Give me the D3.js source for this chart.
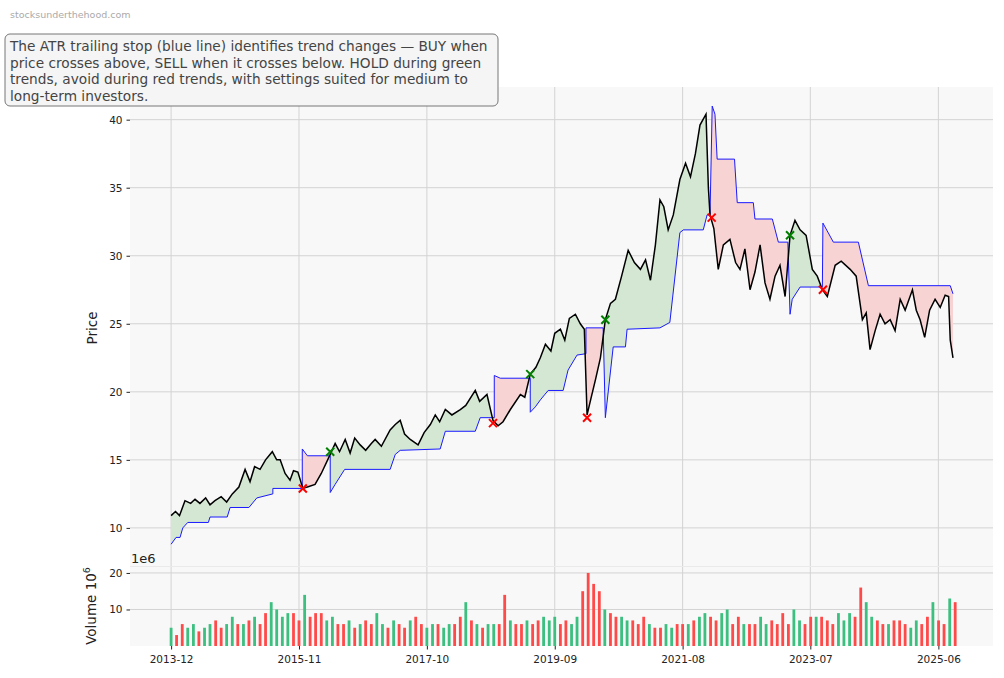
<!DOCTYPE html>
<html>
<head>
<meta charset="utf-8">
<script src="https://cdn.jsdelivr.net/npm/d3@7"></script>
<style>
body { margin: 0; background: #fff; font-family: "DejaVu Sans", sans-serif; }
</style>
</head>
<body>
<svg id="chart" width="1004" height="678"></svg>
<script>
// months since 2013-12
const priceT = [0,0.8,1.5,2.5,3.5,4.3,5.2,6.2,7,7.9,9,10,11,12.2,13.3,14.2,15,16,17,18.2,19,19.6,20.5,21.4,22,22.8,23.7,24.5,25.9,27,28.6,29.5,30.3,31.3,32.2,33,34,35,36,36.7,37.8,39.4,40.3,41.2,42,43,44.4,45.5,46.6,47.5,48.3,49.3,50.5,52,53,54.7,55.5,56.8,57.9,58.8,59.7,61,62.8,63.6,64.6,65.6,66.4,67.3,68.3,69,70,70.8,71.6,72.7,73.6,74.3,74.8,75.5,76.3,77.2,78.1,79,79.9,81,82.2,83.3,84.4,85.3,86.2,87.1,87.9,88.6,89.4,90.3,91.5,92.5,93.4,94.3,95.1,96.2,96.6,96.9,97.6,98.4,99.3,100.5,101.5,102.3,103.2,104.1,105,105.9,106.8,107.7,108.6,109.5,110.4,111.3,112.2,113.1,114.2,115.3,116.2,117.1,118,119.4,120.5,122.1,123.2,124.3,125,125.7,126.6,127.5,128.4,129.3,130.2,131.1,132,133.3,134,134.7,135.5,136.4,137.4,138.3,139.2,139.8,140.1,140.6];
const priceV = [10.9,11.2,10.9,12,11.8,12.1,11.8,12.2,11.7,12,12.3,11.9,12.5,13,14.3,13.4,14.5,14.3,15,15.6,15,15,14,13.5,14.2,14.1,12.9,13,13.2,14,15.4,16.2,15.6,16.5,15.5,16.6,16.1,15.7,16.2,16.5,16,17.2,17.6,17.9,16.9,16.5,16.1,17,17.6,18.3,17.8,18.7,18.3,18.7,19,20.1,19.3,19.8,17.9,17.5,17.8,18.7,19.8,19.6,21.3,21.8,22.5,23.5,23,24.3,24.6,23.8,25.4,25.7,25,24.6,18.3,19.5,20.9,22.5,25.3,26.5,26.8,28.5,30.4,29.5,29,29.7,28.2,30.8,34.1,33.6,31.9,33,35.6,36.8,35.8,37.5,39.6,40.4,35,33,32,29,30.8,31.2,29.5,29,30.5,27.5,28.8,30.8,28,26.8,28.5,29.3,27,31.5,32.6,31.9,31.5,29,28.5,27.5,27,29.3,29.6,29,28.5,25.3,25.8,23.1,24.5,25.7,25,25.3,24.5,26.8,26,27.5,26,25.3,24,26,26.8,26.2,27.1,27,23.8,22.5];
const stopT = [0,0.9,1.6,2.1,3,6.7,7,10.1,10.6,14,15.4,18.3,18.3,23.6,23.6,24.5,28.6,28.6,29.5,31.2,39.4,40.3,41.2,48.4,49.3,54.7,55.6,58.1,58.1,59.2,64.6,64.6,65.5,66.4,67.8,70.5,71.4,73,74.6,74.6,77.7,78.1,79.5,81.7,82,87.9,89.7,91.5,92.1,95.7,96.4,96.9,97.3,97.8,98.2,101.3,101.8,104.7,105,108.1,109.2,110.9,111.3,111.7,113.1,117.1,117.2,119.1,123.6,125.4,140.1,140.6];
const stopV = [8.8,9.3,9.3,10,10.4,10.4,10.8,10.8,11.5,11.5,12.2,12.5,12.9,12.9,15.8,15.3,15.3,12.6,13.2,14.3,14.3,15.4,15.7,15.8,17.1,17.1,18.1,18.1,21.2,21,21,18.5,18.9,19.4,20.1,20.1,21.6,22.7,22.8,24.7,24.7,18.1,23.3,23.3,24.6,24.7,25.1,31.7,31.9,31.9,33,33,41,40.4,37.1,37.1,33.9,33.9,32.7,32.7,31,31,25.7,26.8,27.7,27.7,32.4,31,31,27.8,27.8,27.2];
const buyT = [28.6, 64.6, 78.1, 111.3];
const buyV = [15.6, 21.3, 25.3, 31.5];
const sellT = [23.7, 57.9, 74.8, 97.2, 117.2];
const sellV = [12.9, 17.7, 18.1, 32.8, 27.5];
// monthly volume in millions
const volume = [5,3,6,5,6,4,5,6,7,5,6,8,6,6,7,8,6,9,12,10,8,9,9,7,
  14,8,9,9,7,8,6,6,7,5,6,7,6,9,6,5,7,6,5,7,8,6,5,6,
  6,5,6,6,8,12,7,6,5,6,6,6,14,7,6,6,7,6,7,8,7,8,6,7,
  6,8,15,20,17,15,10,9,8,8,7,7,6,8,6,5,5,6,5,6,6,
  6,7,8,9,8,7,9,10,6,8,6,6,6,8,6,7,6,9,6,10,7,6,8,8,
  8,7,6,9,7,9,8,16,12,8,7,6,6,7,7,6,5,7,6,8,12,7,6,13,12];
const volDir = "udduuduudduudududduuuudduddduuddududduududdudduuduuddududuudduddudduuudduuddddudduudddudduudduduudduuddudduudddduudduddduuudduudduddduuddudd";
const priceTicks = [10, 15, 20, 25, 30, 35, 40];
const volTicks = [10, 20];
const dateTicks = ["2013-12","2015-11","2017-10","2019-09","2021-08","2023-07","2025-06"];
const note = ["The ATR trailing stop (blue line) identifies trend changes \u2014 BUY when",
  "price crosses above, SELL when it crosses below. HOLD during green",
  "trends, avoid during red trends, with settings suited for medium to",
  "long-term investors."];

const start = new Date(2013, 11, 1);
const toDate = m => d3.timeDay.offset(start, Math.round(m * 30.44));

const svg = d3.select("#chart");
const L = 130, R = 993, PT = 87, PB = 566, VB = 646;

const x = d3.scaleTime().domain([toDate(-7.4), toDate(147.8)]).range([L, R]);
const y = d3.scaleLinear().domain([7.2, 42.4]).range([PB, PT]);
const yv = d3.scaleLinear().domain([0, 21.9]).range([VB, PB]);

// panels
svg.append("rect").attr("x", L).attr("y", PT).attr("width", R - L).attr("height", PB - PT).attr("fill", "#f8f8f8");
svg.append("rect").attr("x", L).attr("y", PB + 1).attr("width", R - L).attr("height", VB - PB - 1).attr("fill", "#f8f8f8");

const tickDates = dateTicks.map(s => d3.timeParse("%Y-%m")(s));
const grid = svg.append("g").attr("stroke", "#d3d3d3").attr("stroke-width", 1);
tickDates.forEach(d => {
    grid.append("line").attr("x1", x(d)).attr("x2", x(d)).attr("y1", PT).attr("y2", PB);
    grid.append("line").attr("x1", x(d)).attr("x2", x(d)).attr("y1", PB + 1).attr("y2", VB);
});
priceTicks.forEach(v => grid.append("line").attr("x1", L).attr("x2", R).attr("y1", y(v)).attr("y2", y(v)));
volTicks.forEach(v => grid.append("line").attr("x1", L).attr("x2", R).attr("y1", yv(v)).attr("y2", yv(v)));
grid.append("line").attr("x1", L).attr("x2", R).attr("y1", PB + 0.5).attr("y2", PB + 0.5).attr("stroke", "#eaeaea");

// interpolation for shaded bands
function interp(ts, vs, t) {
    let i = d3.bisectRight(ts, t);
    if (i <= 0) return vs[0];
    if (i >= ts.length) return vs[vs.length - 1];
    const t0 = ts[i - 1], t1 = ts[i];
    if (t1 === t0) return vs[i];
    return vs[i - 1] + (vs[i] - vs[i - 1]) * (t - t0) / (t1 - t0);
}
const samples = d3.range(0, 140.61, 0.05).map(t => ({t, p: interp(priceT, priceV, t), s: interp(stopT, stopV, t)}));

svg.append("path").datum(samples).attr("fill", "#d3e7d3")
    .attr("d", d3.area().x(d => x(toDate(d.t))).y0(d => y(d.s)).y1(d => y(Math.max(d.p, d.s))));
svg.append("path").datum(samples).attr("fill", "#f8d3d3")
    .attr("d", d3.area().x(d => x(toDate(d.t))).y0(d => y(d.s)).y1(d => y(Math.min(d.p, d.s))));

const stopData = stopT.map((t, i) => [t, stopV[i]]);
svg.append("path").datum(stopData).attr("fill", "none").attr("stroke", "#1a1aff").attr("stroke-width", 1)
    .attr("d", d3.line().x(d => x(toDate(d[0]))).y(d => y(d[1])));
const priceData = priceT.map((t, i) => [t, priceV[i]]);
svg.append("path").datum(priceData).attr("fill", "none").attr("stroke", "#000").attr("stroke-width", 1.5)
    .attr("d", d3.line().x(d => x(toDate(d[0]))).y(d => y(d[1])));

function cross(ts, vs, color) {
    const g = svg.append("g").attr("stroke", color).attr("stroke-width", 2);
    ts.forEach((t, i) => {
        const cx = x(toDate(t)), cy = y(vs[i]);
        g.append("path").attr("d", `M${cx - 4},${cy - 4}L${cx + 4},${cy + 4}M${cx - 4},${cy + 4}L${cx + 4},${cy - 4}`);
    });
}
cross(buyT, buyV, "#008000");
cross(sellT, sellV, "#ff0000");

// volume bars
svg.append("g").selectAll("rect").data(volume).join("rect")
    .attr("x", (d, i) => x(toDate(i)) - 1.4)
    .attr("width", 2.8)
    .attr("y", d => yv(d))
    .attr("height", d => VB - yv(d))
    .attr("fill", (d, i) => volDir[i % volDir.length] === "u" ? "#3dbf80" : "#ff4a4a");

// axes
const yAxis = svg.append("g").attr("transform", `translate(${L},0)`)
    .call(d3.axisLeft(y).tickValues(priceTicks).tickSize(3.5).tickPadding(4));
const vAxis = svg.append("g").attr("transform", `translate(${L},0)`)
    .call(d3.axisLeft(yv).tickValues(volTicks).tickSize(3.5).tickPadding(4));
const xAxis = svg.append("g").attr("transform", `translate(0,${VB})`)
    .call(d3.axisBottom(x).tickValues(tickDates).tickFormat(d3.timeFormat("%Y-%m")).tickSize(3.5).tickPadding(6));
[yAxis, vAxis, xAxis].forEach(a => {
    a.select(".domain").remove();
    a.selectAll("text").attr("font-family", "DejaVu Sans").attr("font-size", 10.5).attr("fill", "#222");
    a.selectAll("line").attr("stroke", "#222");
});

svg.append("text").attr("transform", "translate(97,328) rotate(-90)").attr("text-anchor", "middle")
    .attr("font-size", 13.5).attr("fill", "#222").text("Price");
const vl = svg.append("text").attr("transform", "translate(96,606) rotate(-90)").attr("text-anchor", "middle")
    .attr("font-size", 13.5).attr("fill", "#222").text("Volume  10");
vl.append("tspan").attr("dy", -6).attr("font-size", 9.5).text("6");
svg.append("text").attr("x", 131).attr("y", 563).attr("font-size", 13).attr("fill", "#222").text("1e6");

svg.append("text").attr("x", 10).attr("y", 18).attr("font-size", 9.5).attr("fill", "#aaa").text("stocksunderthehood.com");
svg.append("rect").attr("x", 5).attr("y", 34).attr("width", 493).attr("height", 72).attr("rx", 5)
    .attr("fill", "#f5f5f5").attr("stroke", "#777").attr("stroke-width", 1);
svg.append("text").attr("font-size", 13.7).attr("fill", "#444")
    .selectAll("tspan").data(note).join("tspan")
    .attr("x", 10).attr("y", (d, i) => 51 + i * 16.5).text(d => d);
</script>
</body>
</html>
